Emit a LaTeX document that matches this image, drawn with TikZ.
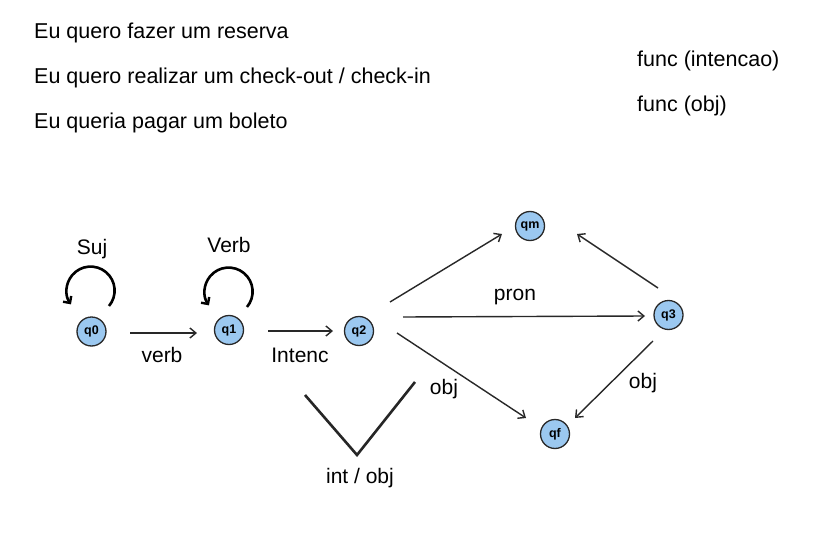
\documentclass[tikz,border=0pt]{standalone}
\usepackage{fontspec}
\setmainfont{Liberation Sans}
\usetikzlibrary{arrows.meta}
\definecolor{nodeblue}{RGB}{155,200,240}
\definecolor{edgegray}{RGB}{40,40,40}
\tikzset{
  state/.style={circle,draw=edgegray,line width=1.3pt,fill=nodeblue,minimum size=29pt,inner sep=0pt,font=\fontsize{12.5}{12.5}\selectfont\bfseries},
  trans/.style={draw=edgegray,line width=1.4pt,-{Straight Barb[length=6pt,width=10pt,line width=1.4pt]}},
  loopline/.style={draw=black,line width=2.6pt,-{Straight Barb[length=5pt,width=10pt,line width=2.4pt]}},
  vline/.style={draw=black!85,line width=2.6pt},
  lbl/.style={font=\fontsize{21}{21}\selectfont,anchor=base,inner sep=0pt},
  txt/.style={font=\fontsize{21.5}{21.5}\selectfont,anchor=base west,inner sep=0pt}
}
\begin{document}
\begin{tikzpicture}[x=1pt,y=-1pt]
\useasboundingbox (0,0) rectangle (815,538);
\fill[white] (0,0) rectangle (815,538);
% texts
\node[txt] (t1) at (34,38.5) {Eu quero fazer um reserva};
\node[txt] (t2) at (34,83.5) {Eu quero realizar um check-out / check-in};
\node[txt] (t3) at (34,128.5) {Eu queria pagar um boleto};
\node[txt] (f1) at (637,66) {func (intencao)};
\node[txt] (f2) at (637,111) {func (obj)};
% states
\node[state] (q0) at (91.5,331.5) {q0};
\node[state] (q1) at (229,330) {q1};
\node[state] (q2) at (359,331) {q2};
\node[state] (qm) at (530,226) {qm};
\node[state] (q3) at (668.5,315) {q3};
\node[state] (qf) at (555,434) {qf};
% transitions
\coordinate (a0) at (130,333);
\coordinate (a1) at (197,333);
\draw[trans] (a0) -- (a1);
\coordinate (b0) at (268,331);
\coordinate (b1) at (333,331);
\draw[trans] (b0) -- (b1);
\coordinate (c0) at (390,302);
\coordinate (c1) at (502,234);
\draw[trans] (c0) -- (c1);
\coordinate (d0) at (403,317);
\coordinate (d1) at (645,316);
\draw[trans] (d0) -- (d1);
\coordinate (e0) at (397,333);
\coordinate (e1) at (526,418);
\draw[trans] (e0) -- (e1);
\coordinate (g0) at (658,288);
\coordinate (g1) at (577,234);
\draw[trans] (g0) -- (g1);
\coordinate (h0) at (653,341);
\coordinate (h1) at (575,418);
\draw[trans] (h0) -- (h1);
% self loops
\coordinate (l0) at (109,306);
\draw[loopline] (l0) arc[start angle=40,end angle=-215,radius=24];
\coordinate (l1) at (247,307);
\draw[loopline] (l1) arc[start angle=40,end angle=-215,radius=24];
% V shape
\coordinate (v0) at (305,395);
\coordinate (v1) at (357,455);
\coordinate (v2) at (415,382);
\draw[vline] (v0) -- (v1) -- (v2);
% labels
\node[lbl] (ls) at (92,254) {Suj};
\node[lbl] (lv) at (229,252) {Verb};
\node[lbl] (lverb) at (162,362) {verb};
\node[lbl] (lint) at (300,362) {Intenc};
\node[lbl] (lpron) at (515,300) {pron};
\node[lbl] (lobj1) at (444,394) {obj};
\node[lbl] (lobj2) at (643,388) {obj};
\node[lbl] (lio) at (360,483) {int / obj};
\end{tikzpicture}
\end{document}
